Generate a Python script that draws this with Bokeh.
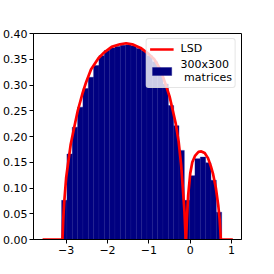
from bokeh.plotting import figure
from bokeh.models import (Range1d, NumeralTickFormatter, CustomJSTickFormatter,
                          FixedTicker, Legend, LegendItem)
from bokeh.embed import file_html
from bokeh.resources import INLINE

# Histogram of eigenvalues (density), 30 equal bins
hist_start = -3.11
hist_bin_width = 0.129
hist_density = [0.076, 0.166, 0.218, 0.257, 0.293, 0.315, 0.338, 0.357, 0.367, 0.372,
                0.375, 0.377, 0.378, 0.376, 0.371, 0.366, 0.357, 0.345, 0.325, 0.302,
                0.260, 0.221, 0.173, 0.076, 0.124, 0.157, 0.160, 0.149, 0.115, 0.053]

# Limiting spectral density curve
lsd_x = [-3.57, -3.09, -3.07, -3.05, -3.00, -2.95, -2.89, -2.80, -2.72, -2.60, -2.52,
         -2.40, -2.22, -2.10, -1.90, -1.70, -1.55, -1.40, -1.20, -1.00, -0.87, -0.72,
         -0.59, -0.50, -0.42, -0.35, -0.28, -0.22, -0.17, -0.14, -0.11, -0.10, -0.08,
         -0.05, 0.00, 0.05, 0.12, 0.20, 0.27, 0.35, 0.43, 0.50, 0.55, 0.62, 0.68,
         0.71, 0.73, 0.74, 1.03]
lsd_y = [0.0, 0.0, 0.040, 0.069, 0.120, 0.150, 0.185, 0.220, 0.250, 0.285, 0.305,
         0.330, 0.352, 0.362, 0.374, 0.379, 0.381, 0.379, 0.372, 0.360, 0.350, 0.330,
         0.300, 0.278, 0.250, 0.225, 0.190, 0.145, 0.090, 0.055, 0.0, 0.0, 0.040,
         0.085, 0.128, 0.150, 0.163, 0.170, 0.171, 0.168, 0.158, 0.142, 0.128, 0.100,
         0.065, 0.040, 0.015, 0.0, 0.0]

x_ticks = [-3, -2, -1, 0, 1]
y_ticks = [0.0, 0.05, 0.10, 0.15, 0.20, 0.25, 0.30, 0.35, 0.40]
lsd_label = "LSD"
hist_label = "300x300\n matrices"

FONT = "DejaVu Sans"

p = figure(frame_width=208, frame_height=206, output_backend="svg", toolbar_location=None,
           x_range=Range1d(-3.79, 1.24), y_range=Range1d(0, 0.40),
           min_border_left=30, min_border_top=33, min_border_right=8, min_border_bottom=18,
           background_fill_color="white", border_fill_color="white")
p.grid.visible = False
p.outline_line_color = "black"
p.outline_line_width = 1

lefts = [hist_start + i * hist_bin_width for i in range(len(hist_density))]
rights = [l + hist_bin_width for l in lefts]
bars = p.quad(left=lefts, right=rights, bottom=0, top=hist_density,
              fill_color="#000080", line_color="#14148c", line_width=0.4)
curve = p.line(lsd_x, lsd_y, line_color="#ff0000", line_width=2.7)

for ax in (p.xaxis[0], p.yaxis[0]):
    ax.axis_line_color = "black"
    ax.major_tick_line_color = "black"
    ax.major_tick_out = 4
    ax.major_tick_in = 0
    ax.minor_tick_out = 0
    ax.minor_tick_in = 0
    ax.major_label_text_font = FONT
    ax.major_label_text_font_size = "11px"
    ax.major_label_text_color = "black"
    ax.major_label_standoff = 2

p.xaxis.ticker = FixedTicker(ticks=x_ticks)
p.yaxis.ticker = FixedTicker(ticks=y_ticks)
p.yaxis.formatter = NumeralTickFormatter(format="0.00")
p.xaxis.formatter = CustomJSTickFormatter(
    code="return tick < 0 ? '\u2212' + Math.abs(tick) : String(tick);")

legend = Legend(items=[LegendItem(label=lsd_label, renderers=[curve]),
                       LegendItem(label=hist_label, renderers=[bars])],
                location="top_right")
legend.label_text_font = FONT
legend.label_text_font_size = "11px"
legend.label_text_color = "black"
legend.border_line_color = "#cccccc"
legend.border_line_width = 1
legend.border_radius = 3
legend.background_fill_color = "white"
legend.background_fill_alpha = 0.8
legend.glyph_width = 24
legend.glyph_height = 10
legend.label_standoff = 7
legend.padding = 3
legend.spacing = 3
legend.margin = 5
p.add_layout(legend)

open("out.html", "w").write(file_html(p, INLINE))
